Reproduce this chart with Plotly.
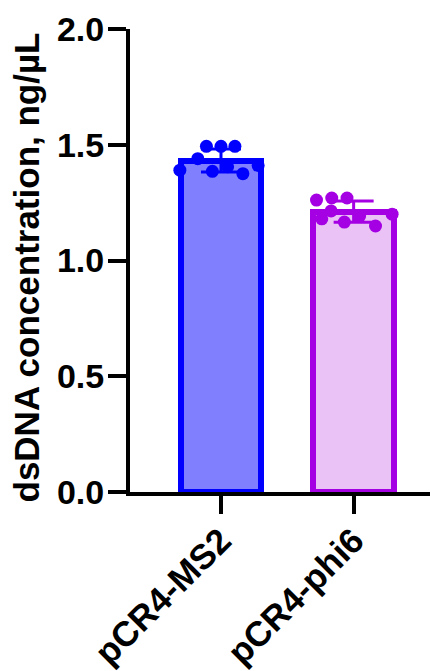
import numpy as np
import plotly.graph_objects as go

categories = ["pCR4-MS2", "pCR4-phi6"]
ms2_points = [1.493, 1.493, 1.493, 1.44, 1.39, 1.385, 1.405, 1.375, 1.41]
phi6_points = [1.261, 1.27, 1.27, 1.214, 1.166, 1.192, 1.149, 1.20, 1.18]
ms2_jitter = [-0.11, 0.0, 0.105, -0.175, -0.31, -0.065, 0.05, 0.165, 0.28]
phi6_jitter = [-0.28, -0.165, -0.05, -0.17, -0.07, 0.045, 0.165, 0.29, -0.24]
y_ticks = [0.0, 0.5, 1.0, 1.5, 2.0]
y_ticklabels = ["0.0", "0.5", "1.0", "1.5", "2.0"]
y_title = "dsDNA concentration, ng/µL"

series = [ms2_points, phi6_points]
jitters = [ms2_jitter, phi6_jitter]
edge_colors = ["#0000FF", "#A400E3"]
fill_colors = ["#8080FF", "#EAC2F5"]

means = [float(np.mean(s)) for s in series]
sds = [float(np.std(s, ddof=1)) for s in series]
xpos = list(range(len(categories)))

FONT = "Liberation Sans, Arial, sans-serif"

fig = go.Figure()
for i in xpos:
    fig.add_trace(go.Bar(
        x=[i], y=[means[i]], width=0.61,
        marker=dict(color=fill_colors[i], line=dict(color=edge_colors[i], width=6)),
        error_y=dict(type="data", array=[sds[i]], visible=True,
                     color=edge_colors[i], thickness=3, width=20),
        showlegend=False, hoverinfo="skip",
    ))
for i in xpos:
    fig.add_trace(go.Scatter(
        x=[i + j for j in jitters[i]], y=series[i], mode="markers",
        marker=dict(color=edge_colors[i], size=13, line=dict(width=0)),
        showlegend=False, hoverinfo="skip",
    ))

# page body has an 8px margin, so the figure is sized to end at the window edge
fig.update_layout(
    width=430, height=663,
    margin=dict(l=122, r=0, t=21, b=179, autoexpand=False),
    plot_bgcolor="white", paper_bgcolor="white",
    font=dict(family=FONT, color="black", size=34, weight="bold"),
    bargap=0,
)
fig.add_annotation(
    text=y_title, textangle=-90, xref="paper", yref="paper",
    x=0, y=0.5, xanchor="center", yanchor="middle",
    xshift=-104, yshift=-7, showarrow=False,
    font=dict(family=FONT, size=35, color="black", weight="bold"),
)
fig.update_xaxes(
    range=[-0.686, 1.636], tickmode="array", tickvals=xpos, ticktext=categories,
    tickangle=-45, showline=True, linecolor="black", linewidth=4,
    ticks="outside", ticklen=18, tickwidth=4, tickcolor="black",
    showgrid=False, zeroline=False, automargin=False,
    ticklabelstandoff=-8,
    tickfont=dict(family=FONT, size=35, color="black", weight="bold"),
)
fig.update_yaxes(
    range=[0, 2.0], tickmode="array", tickvals=y_ticks, ticktext=y_ticklabels,
    showline=True, linecolor="black", linewidth=4,
    ticks="outside", ticklen=18, tickwidth=4, tickcolor="black",
    showgrid=False, zeroline=False, automargin=False,
    ticklabelstandoff=-3,
    tickfont=dict(family=FONT, size=34, color="black", weight="bold"),
)
fig.write_html("out.html")
